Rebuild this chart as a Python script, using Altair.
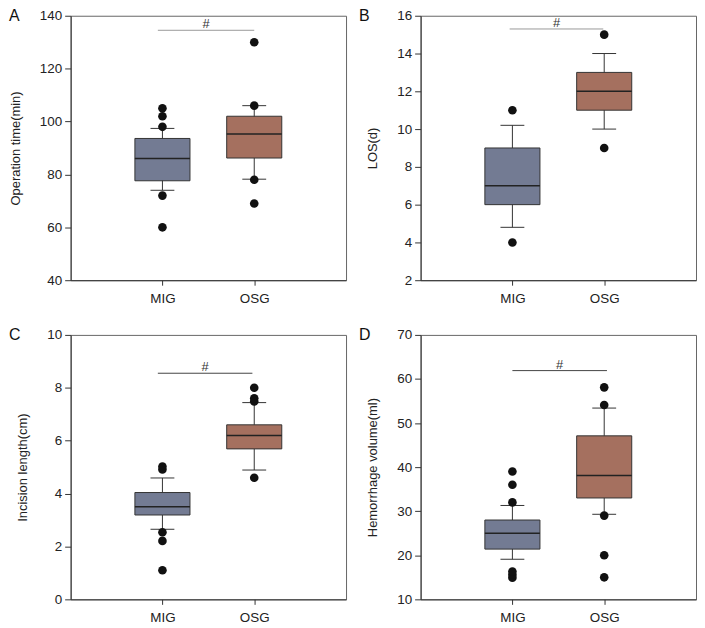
import altair as alt
import pandas as pd

groups = ["MIG", "OSG"]
group_pos = [1, 2]
letters = ["A", "B", "C", "D"]
y_titles = ["Operation time(min)", "LOS(d)", "Incision length(cm)", "Hemorrhage volume(ml)"]

# box stats: lower whisker, Q1, median, Q3, upper whisker
a_mig_box = [74, 77.6, 86, 93.6, 97.4]
a_osg_box = [78.2, 86.2, 95.3, 102, 106]
a_mig_out = [60, 72, 98, 102, 105]
a_osg_out = [69, 78, 106, 130]
a_ticks = [40, 60, 80, 100, 120, 140]
a_sig = [0.95, 2.0, 134.5]

b_mig_box = [4.8, 6.0, 7.0, 9.0, 10.2]
b_osg_box = [10, 11, 12, 13, 14]
b_mig_out = [4, 11]
b_osg_out = [9, 15]
b_ticks = [2, 4, 6, 8, 10, 12, 14, 16]
b_sig = [0.97, 1.99, 15.3]

c_mig_box = [2.65, 3.19, 3.5, 4.04, 4.59]
c_osg_box = [4.89, 5.69, 6.2, 6.6, 7.44]
c_mig_out = [1.1, 2.21, 2.54, 4.91, 5.02]
c_osg_out = [4.6, 7.48, 7.6, 8.0]
c_ticks = [0, 2, 4, 6, 8, 10]
c_sig = [0.95, 1.98, 8.55]

d_mig_box = [19.1, 21.4, 25.0, 28.0, 31.3]
d_osg_box = [29.3, 33.0, 38.1, 47.1, 53.4]
d_mig_out = [14.9, 15.6, 16.3, 32, 36, 39]
d_osg_out = [15, 20, 29, 54.1, 58.1]
d_ticks = [10, 20, 30, 40, 50, 60, 70]
d_sig = [1.0, 2.03, 61.9]

box_colors = ["#737b93", "#a5705f"]
FONT = "Liberation Sans"
W, H = 277, 266


def panel(letter, ytitle, mig_box, osg_box, mig_out, osg_out, ticks, sig, sig_color):
    boxes = pd.DataFrame(
        [[g, p] + list(b) for g, p, b in zip(groups, group_pos, [mig_box, osg_box])],
        columns=["group", "pos", "lo", "q1", "med", "q3", "hi"],
    )
    caps = pd.DataFrame(
        [[p, v] for p, b in zip(group_pos, [mig_box, osg_box]) for v in (b[0], b[4])],
        columns=["pos", "val"],
    )
    outs = pd.DataFrame(
        [[p, v] for p, o in zip(group_pos, [mig_out, osg_out]) for v in o],
        columns=["pos", "val"],
    )
    sigdf = pd.DataFrame({"x1": [sig[0]], "x2": [sig[1]], "y": [sig[2]],
                          "xm": [(sig[0] + sig[1]) / 2], "t": ["#"]})

    xscale = alt.Scale(domain=[0, 3], nice=False)
    yscale = alt.Scale(domain=[ticks[0], ticks[-1]], nice=False, zero=False)
    xaxis = alt.Axis(values=group_pos, labelExpr="datum.value == 1 ? 'MIG' : 'OSG'",
                     title=None, grid=False, tickSize=5, labelPadding=6)
    yaxis = alt.Axis(values=ticks, title=ytitle, grid=False, tickSize=6, labelPadding=3,
                     titlePadding=17, labelOverlap=False, tickCount=len(ticks))

    X = lambda f: alt.X(f, scale=xscale, axis=xaxis)
    Y = lambda f: alt.Y(f, scale=yscale, axis=yaxis)

    base = alt.Chart(boxes)
    whisk = base.mark_rule(color="#333", strokeWidth=1).encode(
        x=X("pos:Q"), y=Y("lo:Q"), y2="hi:Q",
    )
    capl = alt.Chart(caps).transform_calculate(
        a="datum.pos - 0.13", b="datum.pos + 0.13"
    ).mark_rule(color="#333", strokeWidth=1).encode(
        x=X("a:Q"), x2="b:Q", y=Y("val:Q")
    )
    box = base.transform_calculate(
        a="datum.pos - 0.3", b="datum.pos + 0.3"
    ).mark_rect(stroke="#333", strokeWidth=1).encode(
        x=X("a:Q"), x2="b:Q", y=Y("q1:Q"), y2="q3:Q",
        color=alt.Color("group:N", scale=alt.Scale(domain=groups, range=box_colors), legend=None),
    )
    med = base.transform_calculate(
        a="datum.pos - 0.3", b="datum.pos + 0.3"
    ).mark_rule(color="#222", strokeWidth=1.5).encode(
        x=X("a:Q"), x2="b:Q", y=Y("med:Q")
    )
    pts = alt.Chart(outs).mark_circle(color="#111", size=75, opacity=1).encode(
        x=X("pos:Q"), y=Y("val:Q")
    )
    sline = alt.Chart(sigdf).mark_rule(color=sig_color, strokeWidth=1).encode(
        x=X("x1:Q"), x2="x2:Q", y=Y("y:Q")
    )
    stext = alt.Chart(sigdf).mark_text(font=FONT, fontSize=13, color="#333", dy=-6).encode(
        x=X("xm:Q"), y=Y("y:Q"), text="t:N"
    )
    lab = alt.Chart(sigdf).mark_text(font=FONT, fontSize=16, color="#111", align="left",
                                     baseline="alphabetic", text=letter).encode(
        x=alt.value(-62), y=alt.value(5)
    )
    return alt.layer(whisk, capl, box, med, pts, sline, stext, lab).properties(width=W, height=H)


pA = panel("A", y_titles[0], a_mig_box, a_osg_box, a_mig_out, a_osg_out, a_ticks, a_sig, "#999")
pB = panel("B", y_titles[1], b_mig_box, b_osg_box, b_mig_out, b_osg_out, b_ticks, b_sig, "#999")
pC = panel("C", y_titles[2], c_mig_box, c_osg_box, c_mig_out, c_osg_out, c_ticks, c_sig, "#444")
pD = panel("D", y_titles[3], d_mig_box, d_osg_box, d_mig_out, d_osg_out, d_ticks, d_sig, "#444")

chart = alt.vconcat(
    alt.hconcat(pA, pB, spacing=11),
    alt.hconcat(pC, pD, spacing=11),
    spacing=21,
).properties(
    padding={"left": 0, "top": -3, "right": 0, "bottom": 0}
).configure_view(
    stroke="#666", strokeWidth=1
).configure_axis(
    labelFont=FONT, titleFont=FONT, labelFontSize=13.5, titleFontSize=13,
    titleFontWeight="normal", labelColor="#222", titleColor="#222",
    domainColor="#333", tickColor="#333", domainWidth=1, labelOverlap=False
)

chart.save("out.html", embed_options={"renderer": "svg", "actions": False})
